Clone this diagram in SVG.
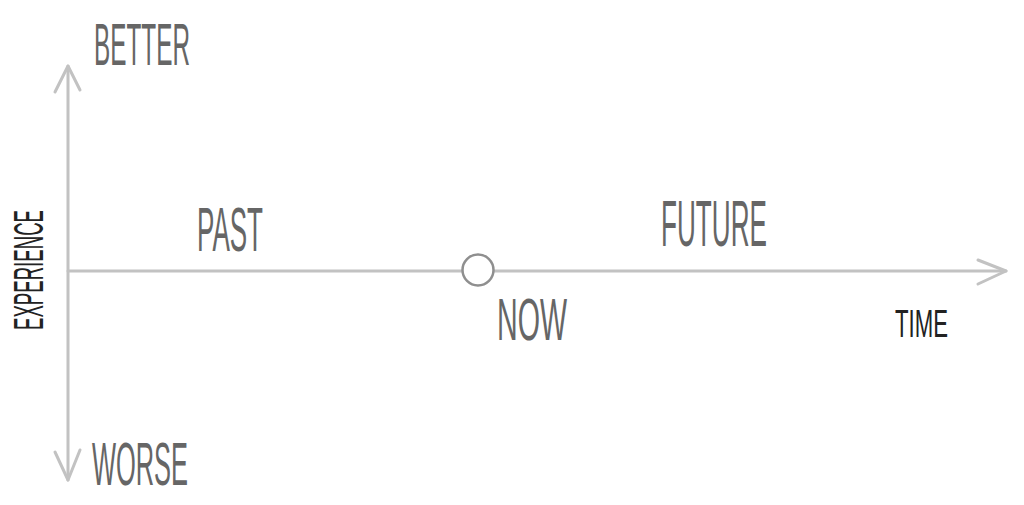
<svg xmlns="http://www.w3.org/2000/svg" width="1024" height="505" viewBox="0 0 1024 505">
<style>
.ax{stroke:#c2c2c2;stroke-width:3;fill:none;stroke-linecap:round;stroke-linejoin:round}
.lbl{font-family:"Liberation Sans",Arial,sans-serif;fill:#666666}
.dk{font-family:"Liberation Sans",Arial,sans-serif;fill:#222222}
</style>
<rect width="1024" height="505" fill="#ffffff"/>
<g id="connectors">
<line class="ax" x1="68" y1="66" x2="68" y2="480"/>
<line class="ax" x1="68" y1="271" x2="463" y2="271"/>
<line class="ax" x1="494" y1="271" x2="1006" y2="271"/>
<polyline class="ax" points="55,92 68,66 80,90"/>
<polyline class="ax" points="55,452 68,480 80,450"/>
<polyline class="ax" points="978,260 1006,271 978,284"/>
</g>
<g id="now-point">
<circle cx="478" cy="270" r="15.5" fill="#ffffff" stroke="#8f8f8f" stroke-width="2.5"/>
</g>
<g id="better"><text class="lbl" x="94" y="65" font-size="60" textLength="96" lengthAdjust="spacingAndGlyphs">BETTER</text></g>
<g id="worse"><text class="lbl" x="92" y="485" font-size="62" textLength="96" lengthAdjust="spacingAndGlyphs">WORSE</text></g>
<g id="past"><text class="lbl" x="197" y="251" font-size="63" textLength="66" lengthAdjust="spacingAndGlyphs">PAST</text></g>
<g id="future"><text class="lbl" x="661" y="246" font-size="64" textLength="106" lengthAdjust="spacingAndGlyphs">FUTURE</text></g>
<g id="now"><text class="lbl" x="497" y="340" font-size="59" textLength="70" lengthAdjust="spacingAndGlyphs">NOW</text></g>
<g id="time"><text class="dk" x="895" y="337" font-size="38" textLength="53" lengthAdjust="spacingAndGlyphs">TIME</text></g>
<g id="experience"><text class="dk" transform="translate(43,330) rotate(-90)" x="0" y="0" font-size="43" textLength="120" lengthAdjust="spacingAndGlyphs">EXPERIENCE</text></g>
</svg>
